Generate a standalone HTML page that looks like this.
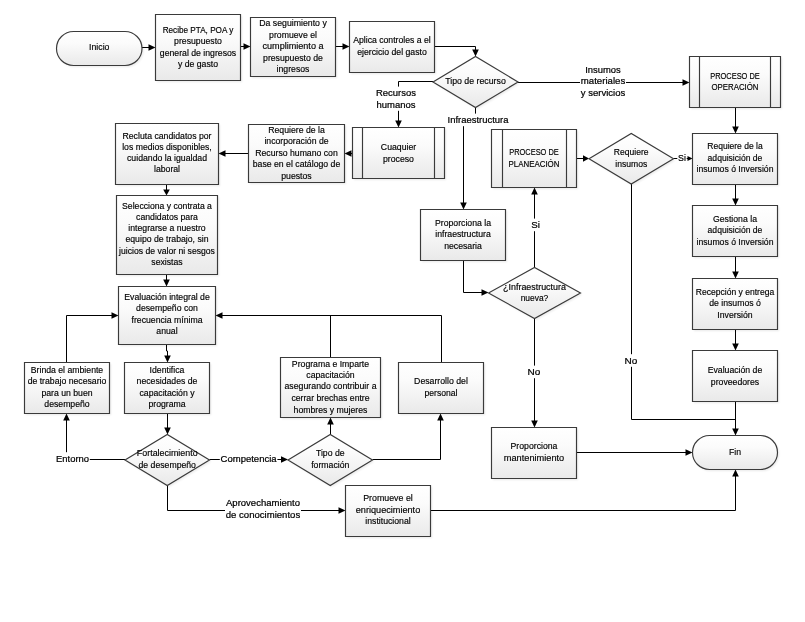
<!DOCTYPE html>
<html><head><meta charset="utf-8"><title>Diagrama de flujo</title>
<style>html,body{margin:0;padding:0;background:#fff}svg{display:block;will-change:transform}text{font-family:"Liberation Sans",sans-serif;fill:#000}</style></head><body>
<svg width="805" height="622" viewBox="0 0 805 622">
<defs><linearGradient id="g" x1="0" y1="0" x2="0" y2="1"><stop offset="0" stop-color="#ffffff"/><stop offset="0.35" stop-color="#fbfbfb"/><stop offset="1" stop-color="#e9e9e9"/></linearGradient><filter id="sh" x="-10%" y="-10%" width="125%" height="130%"><feGaussianBlur stdDeviation="0.8"/></filter></defs>
<rect width="805" height="622" fill="#fff"/>
<g fill="#000" opacity="0.085" filter="url(#sh)" transform="translate(1.5,1.6)">
<path d="M73.5 31.5h51.5a17.0 17.0 0 0 1 0 34h-51.5a17.0 17.0 0 0 1 0 -34z"/>
<path d="M155.5 14.5h85v66h-85z"/>
<path d="M250.5 17.5h85v59h-85z"/>
<path d="M349.5 21.5h85v51h-85z"/>
<path d="M433 82.0L475.5 56.5L518 82.0L475.5 107.5z"/>
<path d="M689.5 56.5h91v51h-91z"/>
<path d="M352.5 127.5h92v51h-92z"/>
<path d="M248.5 124.5h96v58h-96z"/>
<path d="M115.5 123.5h103v61h-103z"/>
<path d="M116.5 195.5h101v79h-101z"/>
<path d="M118.5 286.5h97v58h-97z"/>
<path d="M24.5 362.5h85v51h-85z"/>
<path d="M124.5 362.5h85v51h-85z"/>
<path d="M125 460.0L167.25 434.5L209.5 460.0L167.25 485.5z"/>
<path d="M288 460.0L330.25 434.5L372.5 460.0L330.25 485.5z"/>
<path d="M280.5 357.5h100v60h-100z"/>
<path d="M398.5 362.5h85v51h-85z"/>
<path d="M345.5 485.5h85v51h-85z"/>
<path d="M420.5 209.5h85v51h-85z"/>
<path d="M491.5 129.5h85v58h-85z"/>
<path d="M589 158.75L631.25 133.5L673.5 158.75L631.25 184.0z"/>
<path d="M488.5 293.0L534.5 267.5L580.5 293.0L534.5 318.5z"/>
<path d="M692.5 133.5h85v51h-85z"/>
<path d="M692.5 205.5h85v51h-85z"/>
<path d="M692.5 278.5h85v51h-85z"/>
<path d="M692.5 350.5h85v51h-85z"/>
<path d="M709.5 435.5h51.0a17.0 17.0 0 0 1 0 34h-51.0a17.0 17.0 0 0 1 0 -34z"/>
<path d="M491.5 427.5h85v51h-85z"/>
</g>
<g fill="none" stroke="#000" stroke-width="1">
<path d="M142 47.5L149.5 47.5"/>
<path d="M240.5 46.5L244.5 46.5"/>
<path d="M335.5 46.5L343.5 46.5"/>
<path d="M434.5 46.5L475.5 46.5L475.5 50.5"/>
<path d="M433 81.5L398.5 81.5L398.5 121.5"/>
<path d="M518 82.5L683.5 82.5"/>
<path d="M475.5 107.5L475.5 118L463.5 118L463.5 203.5"/>
<path d="M352.5 153.5L350.5 153.5"/>
<path d="M248.5 153.5L224.5 153.5"/>
<path d="M166.5 184.5L166.5 190.5"/>
<path d="M166.5 274.5L166.5 280.5"/>
<path d="M166.5 344.5L166.5 351L167.5 351L167.5 356.5"/>
<path d="M167.5 413.5L167.5 428.5"/>
<path d="M125 459.5L66.5 459.5L66.5 419.5"/>
<path d="M66.5 362.5L66.5 315.5L112.5 315.5"/>
<path d="M209.5 459.5L282 459.5"/>
<path d="M167.5 485.5L167.5 510.5L339.5 510.5"/>
<path d="M330.5 434.5L330.5 423.5"/>
<path d="M330.5 357.5L330.5 315.5L221.5 315.5"/>
<path d="M372.5 459.5L440.5 459.5L440.5 419.5"/>
<path d="M441.5 362.5L441.5 315.5L330 315.5"/>
<path d="M430.5 510.5L735.5 510.5L735.5 475.5"/>
<path d="M463.5 260.5L463.5 292.5L482.5 292.5"/>
<path d="M534.5 267.5L534.5 193.5"/>
<path d="M534.5 318.5L534.5 421.5"/>
<path d="M576.5 158.5L584 158.5"/>
<path d="M673.5 158.5L688.5 158.5"/>
<path d="M631.5 184L631.5 419.5L735.5 419.5"/>
<path d="M735.5 107.5L735.5 127.5"/>
<path d="M735.5 184.5L735.5 199.5"/>
<path d="M735.5 256.5L735.5 272.5"/>
<path d="M735.5 329.5L735.5 344.5"/>
<path d="M735.5 401.5L735.5 429.5"/>
<path d="M576.5 452.5L686.5 452.5"/>
</g><g fill="#000">
<path d="M155.5 47.5L148.5 50.8L148.5 44.2z"/>
<path d="M250.5 46.5L243.5 49.8L243.5 43.2z"/>
<path d="M349.5 46.5L342.5 49.8L342.5 43.2z"/>
<path d="M475.5 56.5L472.2 49.5L478.8 49.5z"/>
<path d="M398.5 127.5L395.2 120.5L401.8 120.5z"/>
<path d="M689.5 82.5L682.5 85.8L682.5 79.2z"/>
<path d="M463.5 209.5L460.2 202.5L466.8 202.5z"/>
<path d="M344.5 153.5L351.5 150.2L351.5 156.8z"/>
<path d="M218.5 153.5L225.5 150.2L225.5 156.8z"/>
<path d="M166.5 195.5L163.2 189.5L169.8 189.5z"/>
<path d="M166.5 286.5L163.2 279.5L169.8 279.5z"/>
<path d="M167.5 362.5L164.2 355.5L170.8 355.5z"/>
<path d="M167.5 434.5L164.2 427.5L170.8 427.5z"/>
<path d="M66.5 413.5L69.8 420.5L63.2 420.5z"/>
<path d="M118.5 315.5L111.5 318.8L111.5 312.2z"/>
<path d="M288 459.5L281 462.8L281 456.2z"/>
<path d="M345.5 510.5L338.5 513.8L338.5 507.2z"/>
<path d="M330.5 417.5L333.8 424.5L327.2 424.5z"/>
<path d="M215.5 315.5L222.5 312.2L222.5 318.8z"/>
<path d="M440.5 413.5L443.8 420.5L437.2 420.5z"/>
<path d="M735.5 469.5L738.8 476.5L732.2 476.5z"/>
<path d="M488.5 292.5L481.5 295.8L481.5 289.2z"/>
<path d="M534.5 187.5L537.8 194.5L531.2 194.5z"/>
<path d="M534.5 427.5L531.2 420.5L537.8 420.5z"/>
<path d="M589 158.5L583 161.8L583 155.2z"/>
<path d="M692.5 158.5L687.5 161L687.5 156z"/>
<path d="M735.5 133.5L732.2 126.5L738.8 126.5z"/>
<path d="M735.5 205.5L732.2 198.5L738.8 198.5z"/>
<path d="M735.5 278.5L732.2 271.5L738.8 271.5z"/>
<path d="M735.5 350.5L732.2 343.5L738.8 343.5z"/>
<path d="M735.5 435.5L732.2 428.5L738.8 428.5z"/>
<path d="M692.5 452.5L685.5 455.8L685.5 449.2z"/>
</g>
<g fill="url(#g)" stroke="#3a3a3a" stroke-width="1.15">
<path d="M73.5 31.5h51.5a17.0 17.0 0 0 1 0 34h-51.5a17.0 17.0 0 0 1 0 -34z"/>
<path d="M155.5 14.5h85v66h-85z"/>
<path d="M250.5 17.5h85v59h-85z"/>
<path d="M349.5 21.5h85v51h-85z"/>
<path d="M433 82.0L475.5 56.5L518 82.0L475.5 107.5z"/>
<path d="M689.5 56.5h91v51h-91z"/>
<path d="M699.5 56.5v51M770.5 56.5v51" fill="none"/>
<path d="M352.5 127.5h92v51h-92z"/>
<path d="M362.5 127.5v51M434.5 127.5v51" fill="none"/>
<path d="M248.5 124.5h96v58h-96z"/>
<path d="M115.5 123.5h103v61h-103z"/>
<path d="M116.5 195.5h101v79h-101z"/>
<path d="M118.5 286.5h97v58h-97z"/>
<path d="M24.5 362.5h85v51h-85z"/>
<path d="M124.5 362.5h85v51h-85z"/>
<path d="M125 460.0L167.25 434.5L209.5 460.0L167.25 485.5z"/>
<path d="M288 460.0L330.25 434.5L372.5 460.0L330.25 485.5z"/>
<path d="M280.5 357.5h100v60h-100z"/>
<path d="M398.5 362.5h85v51h-85z"/>
<path d="M345.5 485.5h85v51h-85z"/>
<path d="M420.5 209.5h85v51h-85z"/>
<path d="M491.5 129.5h85v58h-85z"/>
<path d="M502.5 129.5v58M566.5 129.5v58" fill="none"/>
<path d="M589 158.75L631.25 133.5L673.5 158.75L631.25 184.0z"/>
<path d="M488.5 293.0L534.5 267.5L580.5 293.0L534.5 318.5z"/>
<path d="M692.5 133.5h85v51h-85z"/>
<path d="M692.5 205.5h85v51h-85z"/>
<path d="M692.5 278.5h85v51h-85z"/>
<path d="M692.5 350.5h85v51h-85z"/>
<path d="M709.5 435.5h51.0a17.0 17.0 0 0 1 0 34h-51.0a17.0 17.0 0 0 1 0 -34z"/>
<path d="M491.5 427.5h85v51h-85z"/>
</g>
<g font-size="8.7" text-anchor="middle" stroke="#000" stroke-width="0.16">
<text x="99.25" y="50">Inicio</text>
<text x="198" y="33" textLength="70.6" lengthAdjust="spacingAndGlyphs">Recibe PTA, POA y</text>
<text x="198" y="44">presupuesto</text>
<text x="198" y="56">general de ingresos</text>
<text x="198" y="67">y de gasto</text>
<text x="293" y="26" textLength="67.5" lengthAdjust="spacingAndGlyphs">Da seguimiento y</text>
<text x="293" y="38">promueve el</text>
<text x="293" y="49" textLength="61" lengthAdjust="spacingAndGlyphs">cumplimiento a</text>
<text x="293" y="61">presupuesto de</text>
<text x="293" y="72">ingresos</text>
<text x="392" y="43" textLength="77.6" lengthAdjust="spacingAndGlyphs">Aplica controles a el</text>
<text x="392" y="55">ejercicio del gasto</text>
<text x="475.5" y="84" textLength="60.6" lengthAdjust="spacingAndGlyphs">Tipo de recurso</text>
<text x="735" y="79" textLength="49.5" lengthAdjust="spacingAndGlyphs">PROCESO DE</text>
<text x="735" y="90" textLength="47" lengthAdjust="spacingAndGlyphs">OPERACIÓN</text>
<text x="398.5" y="150">Cuaquier</text>
<text x="398.5" y="162">proceso</text>
<text x="296.5" y="133">Requiere de la</text>
<text x="296.5" y="144">incorporación de</text>
<text x="296.5" y="156">Recurso humano con</text>
<text x="296.5" y="167">base en el catálogo de</text>
<text x="296.5" y="179">puestos</text>
<text x="167" y="139" textLength="89" lengthAdjust="spacingAndGlyphs">Recluta candidatos por</text>
<text x="167" y="150" textLength="89.6" lengthAdjust="spacingAndGlyphs">los medios disponibles,</text>
<text x="167" y="161" textLength="80" lengthAdjust="spacingAndGlyphs">cuidando la igualdad</text>
<text x="167" y="172">laboral</text>
<text x="167" y="209" textLength="89.8" lengthAdjust="spacingAndGlyphs">Selecciona y contrata a</text>
<text x="167" y="220">candidatos para</text>
<text x="167" y="231">integrarse a nuestro</text>
<text x="167" y="242">equipo de trabajo, sin</text>
<text x="167" y="254" textLength="95.8" lengthAdjust="spacingAndGlyphs">juicios de valor ni sesgos</text>
<text x="167" y="265">sexistas</text>
<text x="167" y="300">Evaluación integral de</text>
<text x="167" y="311">desempeño con</text>
<text x="167" y="323">frecuencia mínima</text>
<text x="167" y="334">anual</text>
<text x="67" y="373">Brinda el ambiente</text>
<text x="67" y="384">de trabajo necesario</text>
<text x="67" y="396">para un buen</text>
<text x="67" y="407">desempeño</text>
<text x="167" y="373">Identifica</text>
<text x="167" y="384">necesidades de</text>
<text x="167" y="396">capacitación y</text>
<text x="167" y="407">programa</text>
<text x="167.25" y="456" textLength="60.8" lengthAdjust="spacingAndGlyphs">Fortalecimiento</text>
<text x="167.25" y="468" textLength="57.4" lengthAdjust="spacingAndGlyphs">de desempeño</text>
<text x="330.25" y="456">Tipo de</text>
<text x="330.25" y="468">formación</text>
<text x="330.5" y="367">Programa e Imparte</text>
<text x="330.5" y="378">capacitación</text>
<text x="330.5" y="389" textLength="92" lengthAdjust="spacingAndGlyphs">asegurando contribuir a</text>
<text x="330.5" y="401">cerrar brechas entre</text>
<text x="330.5" y="413">hombres y mujeres</text>
<text x="441" y="384" textLength="53.8" lengthAdjust="spacingAndGlyphs">Desarrollo del</text>
<text x="441" y="396" textLength="33" lengthAdjust="spacingAndGlyphs">personal</text>
<text x="388" y="501" textLength="49.6" lengthAdjust="spacingAndGlyphs">Promueve el</text>
<text x="388" y="513" textLength="64.5" lengthAdjust="spacingAndGlyphs">enriquecimiento</text>
<text x="388" y="524">institucional</text>
<text x="463" y="226">Proporciona la</text>
<text x="463" y="237">infraestructura</text>
<text x="463" y="249">necesaria</text>
<text x="534" y="155" textLength="49.5" lengthAdjust="spacingAndGlyphs">PROCESO DE</text>
<text x="534" y="167" textLength="51" lengthAdjust="spacingAndGlyphs">PLANEACIÓN</text>
<text x="631.25" y="155" textLength="34.8" lengthAdjust="spacingAndGlyphs">Requiere</text>
<text x="631.25" y="167" textLength="32" lengthAdjust="spacingAndGlyphs">insumos</text>
<text x="534.5" y="290" textLength="62.8" lengthAdjust="spacingAndGlyphs">¿Infraestructura</text>
<text x="534.5" y="301" textLength="27.6" lengthAdjust="spacingAndGlyphs">nueva?</text>
<text x="735" y="149" textLength="55.4" lengthAdjust="spacingAndGlyphs">Requiere de la</text>
<text x="735" y="161" textLength="54.8" lengthAdjust="spacingAndGlyphs">adquisición de</text>
<text x="735" y="172" textLength="77" lengthAdjust="spacingAndGlyphs">insumos ó Inversión</text>
<text x="735" y="222">Gestiona la</text>
<text x="735" y="233" textLength="54.8" lengthAdjust="spacingAndGlyphs">adquisición de</text>
<text x="735" y="245" textLength="77" lengthAdjust="spacingAndGlyphs">insumos ó Inversión</text>
<text x="735" y="295" textLength="78.4" lengthAdjust="spacingAndGlyphs">Recepción y entrega</text>
<text x="735" y="306">de insumos ó</text>
<text x="735" y="318">Inversión</text>
<text x="735" y="373">Evaluación de</text>
<text x="735" y="385">proveedores</text>
<text x="735" y="455">Fin</text>
<text x="534" y="449">Proporciona</text>
<text x="534" y="461" textLength="60.4" lengthAdjust="spacingAndGlyphs">mantenimiento</text>
</g>
<g fill="#fff">
<rect x="375.2" y="86.6" width="41.6" height="12.6"/>
<rect x="375.7" y="98.2" width="40.6" height="12.6"/>
<rect x="584.4" y="63.6" width="37.2" height="12.6"/>
<rect x="580" y="74.9" width="46" height="12.6"/>
<rect x="580" y="86.2" width="46" height="12.6"/>
<rect x="446.7" y="113.6" width="62.6" height="12.6"/>
<rect x="530.5" y="218.6" width="10.2" height="12.6"/>
<rect x="526.8" y="365.6" width="14.4" height="12.6"/>
<rect x="677.3" y="151.6" width="9.4" height="12.6"/>
<rect x="623.8" y="354.2" width="14.4" height="12.6"/>
<rect x="55.2" y="452.2" width="34.6" height="12.6"/>
<rect x="219.8" y="452.2" width="57.6" height="12.6"/>
<rect x="225.2" y="497" width="75.6" height="12.6"/>
<rect x="225" y="509" width="76" height="12.6"/>
</g>
<g font-size="9.5" text-anchor="middle" stroke="#000" stroke-width="0.22">
<text x="396" y="96" textLength="40" lengthAdjust="spacingAndGlyphs">Recursos</text>
<text x="396" y="107.6" textLength="39" lengthAdjust="spacingAndGlyphs">humanos</text>
<text x="603" y="73" textLength="35.6" lengthAdjust="spacingAndGlyphs">Insumos</text>
<text x="603" y="84.3" textLength="44.4" lengthAdjust="spacingAndGlyphs">materiales</text>
<text x="603" y="95.6" textLength="44.4" lengthAdjust="spacingAndGlyphs">y servicios</text>
<text x="478" y="123" textLength="61" lengthAdjust="spacingAndGlyphs">Infraestructura</text>
<text x="535.6" y="228" textLength="8.6" lengthAdjust="spacingAndGlyphs">Si</text>
<text x="534" y="375" textLength="12.8" lengthAdjust="spacingAndGlyphs">No</text>
<text x="682" y="161" textLength="7.8" lengthAdjust="spacingAndGlyphs">Si</text>
<text x="631" y="363.6" textLength="12.8" lengthAdjust="spacingAndGlyphs">No</text>
<text x="72.5" y="461.6" textLength="33" lengthAdjust="spacingAndGlyphs">Entorno</text>
<text x="248.6" y="461.6" textLength="56" lengthAdjust="spacingAndGlyphs">Competencia</text>
<text x="263" y="506.4" textLength="74" lengthAdjust="spacingAndGlyphs">Aprovechamiento</text>
<text x="263" y="518.4" textLength="74.4" lengthAdjust="spacingAndGlyphs">de conocimientos</text>
</g>
</svg></body></html>
